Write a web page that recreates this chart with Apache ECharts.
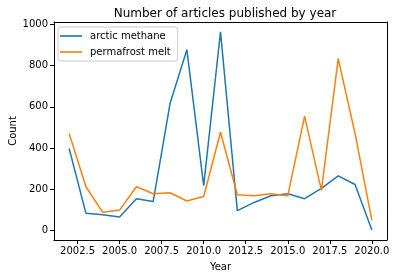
<!DOCTYPE html>
<html><head><meta charset="utf-8">
<script src="https://cdn.jsdelivr.net/npm/echarts@6/dist/echarts.min.js"></script>
<style>html,body{margin:0;padding:0;background:#fff}#c{width:397px;height:278px}</style>
</head><body><div id="c"></div>
<script>
const years = [2002,2003,2004,2005,2006,2007,2008,2009,2010,2011,2012,2013,2014,2015,2016,2017,2018,2019,2020];
const arcticMethane = [398,84,77,66,155,142,616,877,218,963,97,137,169,179,155,205,266,224,3];
const permafrostMelt = [471,213,89,100,213,179,184,144,166,477,174,169,179,169,555,195,834,471,50];
const xTicks = [2002.5,2005,2007.5,2010,2012.5,2015,2017.5,2020];
const yTicks = [0,200,400,600,800,1000];

const font = 'DejaVu Sans';
const xMin = 2001.1, xMax = 2020.9, yMin = -45, yMax = 1011;
const frameAxis = {show: true, axisLine: {show: true, onZero: false, lineStyle: {color: '#000', width: 1}},
  axisTick: {show: false}, axisLabel: {show: false}, splitLine: {show: false}};
const chart = echarts.init(document.getElementById('c'));
chart.setOption({
  animation: false,
  textStyle: {fontFamily: font},
  title: {text: 'Number of articles published by year', left: 220, top: 3, textAlign: 'center',
    textStyle: {fontFamily: font, fontSize: 12, fontWeight: 'normal', color: '#000'}},
  grid: {left: 54, right: 10, top: 22, bottom: 38, outerBoundsMode: 'none', containLabel: false},
  legend: {left: 58, top: 27, orient: 'vertical', itemGap: 4, padding: [3, 7, 3, 2],
    borderColor: '#ccc', borderWidth: 1, borderRadius: 3, backgroundColor: '#fff',
    icon: 'path://M0,0 L20,0 L20,1.5 L0,1.5 Z', itemWidth: 22, itemHeight: 2,
    formatter: n => '{a|' + n + '}',
    textStyle: {fontFamily: font, fontSize: 10, color: '#000',
      rich: {a: {fontFamily: font, fontSize: 10, color: '#000', padding: [1, 0, 1, 3], lineHeight: 12}}},
    data: ['arctic methane', 'permafrost melt']},
  xAxis: [{type: 'value', min: xMin, max: xMax, name: 'Year', nameLocation: 'middle', nameGap: 22,
    nameMoveOverlap: false,
    nameTextStyle: {fontFamily: font, fontSize: 10, color: '#000'},
    splitLine: {show: false},
    axisLine: {onZero: false, lineStyle: {color: '#000'}},
    axisTick: {customValues: xTicks, length: 4, lineStyle: {color: '#000'}},
    axisLabel: {customValues: xTicks, fontFamily: font, fontSize: 10, color: '#000', margin: 6,
      formatter: v => v.toFixed(1)}},
    Object.assign({type: 'value', position: 'top', min: xMin, max: xMax}, frameAxis)],
  yAxis: [{type: 'value', min: yMin, max: yMax, name: 'Count', nameLocation: 'middle', nameGap: 36,
    nameMoveOverlap: false,
    nameTextStyle: {fontFamily: font, fontSize: 10, color: '#000'},
    splitLine: {show: false},
    axisLine: {show: true, onZero: false, lineStyle: {color: '#000'}},
    axisTick: {show: true, customValues: yTicks, length: 4, lineStyle: {color: '#000'}},
    axisLabel: {customValues: yTicks, fontFamily: font, fontSize: 10, color: '#000', margin: 6,
      formatter: v => String(v)}},
    Object.assign({type: 'value', position: 'right', min: yMin, max: yMax}, frameAxis)],
  series: [
    {name: 'arctic methane', type: 'line', showSymbol: false, color: '#1f77b4',
      lineStyle: {width: 1.5}, data: years.map((y, i) => [y, arcticMethane[i]])},
    {name: 'permafrost melt', type: 'line', showSymbol: false, color: '#ff7f0e',
      lineStyle: {width: 1.5}, data: years.map((y, i) => [y, permafrostMelt[i]])}
  ]
});
</script></body></html>
